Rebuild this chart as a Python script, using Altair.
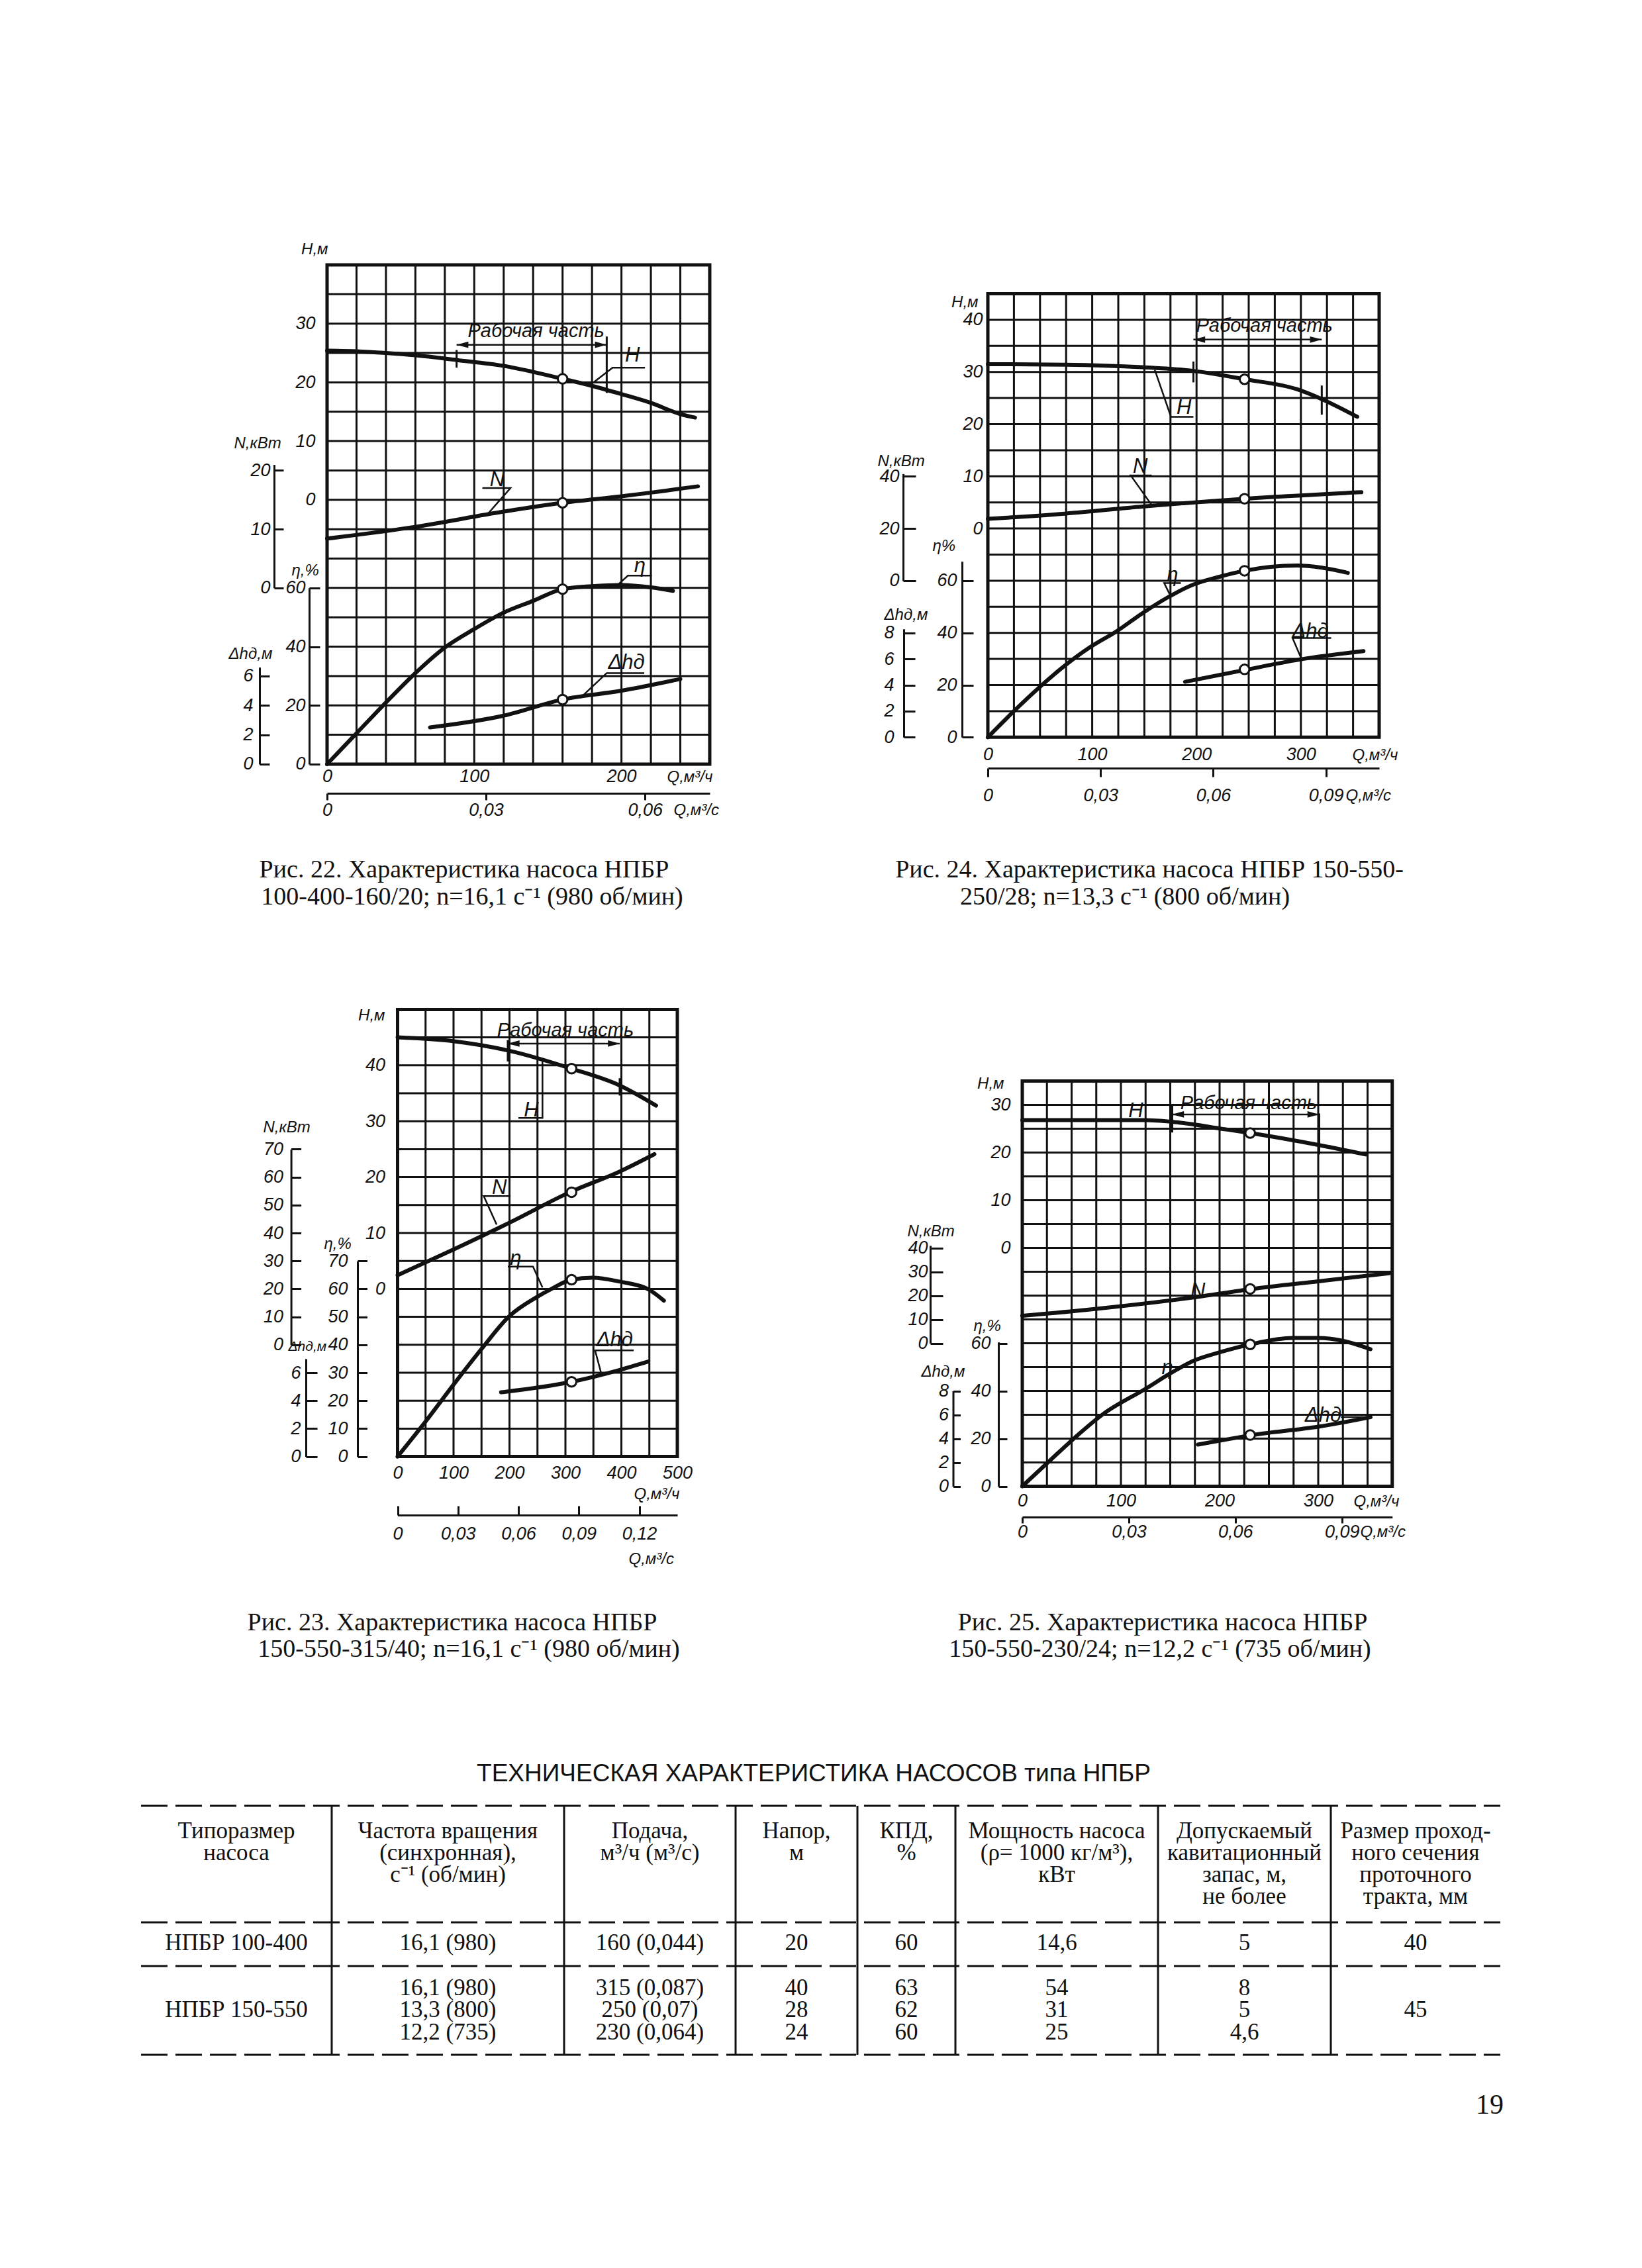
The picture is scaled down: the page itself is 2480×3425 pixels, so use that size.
import altair as alt
import pandas as pd

# ---------------- page ----------------
PAGE_W, PAGE_H, MARGIN = 2480, 3425, 8
VW, VH = PAGE_W - 2 * MARGIN, PAGE_H - 2 * MARGIN
SANS = "Liberation Sans"
SERIF = "Liberation Serif"
INK = "#111111"

# ---------------- Рис. 22 ----------------
q22_H = [0, 20, 40, 60, 88, 120, 160, 180, 200, 220, 240, 250]
H22 = [25.4, 25.3, 25.0, 24.6, 23.8, 22.8, 20.6, 19.4, 18.0, 16.5, 14.6, 14.0]
q22_N = [0, 60, 120, 160, 200, 252]
N22 = [8.4, 10.4, 13.0, 14.5, 15.6, 17.3]
q22_eta = [0, 20, 40, 60, 80, 100, 120, 140, 160, 180, 200, 220, 235]
eta22 = [0, 10.5, 21, 31, 39.7, 46, 51.6, 55.6, 59.6, 60.6, 61, 60.2, 59]
q22_dh = [70, 120, 160, 200, 240]
dh22 = [2.5, 3.3, 4.4, 5.0, 5.8]
duty22 = {"q": 160, "H": 20.6, "N": 14.5, "eta": 59.6, "dh": 4.4}
work22 = [88, 190]

# ---------------- Рис. 24 ----------------
q24_H = [0, 74, 148, 197, 246, 296, 320, 354]
H24 = [31.5, 31.4, 30.9, 30.2, 28.6, 26.7, 24.8, 21.4]
q24_N = [0, 74, 148, 246, 358]
N24 = [23.7, 25.7, 28.4, 31.4, 33.9]
q24_eta = [0, 25, 49, 74, 98, 123, 148, 172, 197, 222, 246, 271, 296, 320, 345]
eta24 = [0, 10, 19, 27.5, 34.5, 40.5, 47.5, 53.5, 58.5, 61.5, 63.8, 65.3, 65.8, 65.0, 63.0]
q24_dh = [189, 249, 302, 360]
dh24 = [4.25, 5.2, 6.0, 6.6]
duty24 = {"q": 246, "H": 28.6, "N": 31.4, "eta": 63.8, "dh": 5.2}
work24 = [197, 320]

# ---------------- Рис. 23 ----------------
q23_H = [0, 101, 200, 311, 397, 462]
H23 = [45, 44.3, 42.6, 39.4, 36.4, 32.8]
q23_N = [0, 101, 200, 308, 397, 459]
N23 = [24.9, 34.2, 43.7, 54.6, 62.0, 68.2]
q23_eta = [0, 51, 101, 150, 200, 249, 274, 311, 348, 397, 448, 476]
eta23 = [0, 12.8, 26, 38.5, 50.3, 57.1, 59.9, 63.3, 64, 62.6, 59.9, 55.8]
q23_dh = [185, 311, 397, 448]
dh23 = [4.6, 5.35, 6.2, 6.8]
duty23 = {"q": 311, "H": 39.4, "N": 54.6, "eta": 63.3, "dh": 5.35}
work23 = [197, 397]

# ---------------- Рис. 25 ----------------
q25_H = [0, 123, 154, 205, 231, 300, 348]
H25 = [26.8, 26.8, 26.4, 24.9, 24.1, 21.6, 19.6]
q25_N = [0, 72, 175, 233, 300, 372]
N25 = [11.5, 14.3, 19.3, 22.8, 26.0, 29.4]
q25_eta = [0, 27, 53, 82, 125, 151, 175, 200, 231, 274, 300, 324, 353]
eta25 = [0, 10.4, 20.3, 30.3, 40.9, 47.6, 52.9, 56.2, 59.5, 62.2, 62.2, 61.1, 57.5]
q25_dh = [178, 205, 233, 300, 353]
dh25 = [3.5, 3.9, 4.3, 5.0, 5.8]
duty25 = {"q": 231, "H": 24.1, "N": 22.8, "eta": 59.5, "dh": 4.3}
work25 = [152, 301]

# ---------------- texts ----------------
captions = [
    ["Рис. 22. Характеристика насоса НПБР", "100-400-160/20; n=16,1 с⁻¹ (980 об/мин)"],
    ["Рис. 24. Характеристика насоса НПБР 150-550-", "250/28; n=13,3 с⁻¹ (800 об/мин)"],
    ["Рис. 23. Характеристика насоса НПБР", "150-550-315/40; n=16,1 с⁻¹ (980 об/мин)"],
    ["Рис. 25. Характеристика насоса НПБР", "150-550-230/24; n=12,2 с⁻¹ (735 об/мин)"],
]
table_title = "ТЕХНИЧЕСКАЯ ХАРАКТЕРИСТИКА НАСОСОВ типа НПБР"
table_header = [
    ["Типоразмер", "насоса"],
    ["Частота вращения", "(синхронная),", "с⁻¹ (об/мин)"],
    ["Подача,", "м³/ч (м³/с)"],
    ["Напор,", "м"],
    ["КПД,", "%"],
    ["Мощность насоса", "(ρ= 1000 кг/м³),", "кВт"],
    ["Допускаемый", "кавитационный", "запас, м,", "не более"],
    ["Размер проход-", "ного сечения", "проточного", "тракта, мм"],
]
table_row1 = ["НПБР 100-400", "16,1 (980)", "160 (0,044)", "20", "60", "14,6", "5", "40"]
table_row2 = [
    ["НПБР 150-550"],
    ["16,1 (980)", "13,3 (800)", "12,2 (735)"],
    ["315 (0,087)", "250 (0,07)", "230 (0,064)"],
    ["40", "28", "24"],
    ["63", "62", "60"],
    ["54", "31", "25"],
    ["8", "5", "4,6"],
    ["45"],
]
page_number = "19"

# ---------------- layout (page pixels) ----------------
P22 = dict(
    left=494, top=400, cw=44.46, ch=44.35, ncols=13, nrows=17, qstep=20,
    units={"H": (40, 0, 5), "N": (0, 11, 5), "eta": (0, 17, 10), "dh": (0, 17, 2)},
    curves={"H": (q22_H, H22), "N": (q22_N, N22), "eta": (q22_eta, eta22), "dh": (q22_dh, dh22)},
    duty=duty22, work=work22, work_y=26.4, work_text=(142, 28.7),
    work_marks=[(88, 22.5, 25.5), (190, 18.2, 27.8)],
    side={"N": (21, 414, [0, 10, 20], 14, 6, "N,кВт", (353, 669), 24),
          "eta": (60, 467, [0, 20, 40, 60], 16, 6, "η,%", (440, 861), 24),
          "dh": (6.6, 392, [0, 2, 4, 6], 15, 10, "Δhд,м", (345, 987), 24)},
    H_vals=[0, 10, 20, 30], H_pad=18, H_title=(495, 376),
    Q_vals=[0, 100, 200], Q_pad=6, Q_title=(1007, 1173),
    Qs_line=1198, Qs_vals=[0, 0.03, 0.06], Qs_tick=10, Qs_pad=2, Qs_title=(1017, 1223), Qs_up=False,
    labels=[("H", "H", 207.5, 24.5), ("N", "N", 115.6, 18.4), ("eta", "η", 212.5, 67.5), ("dh", "Δhд", 203.4, 6.9)],
    leaders=[("H", [(180, 19.8), (194, 22.5), (216, 22.5)]),
             ("N", [(109.5, 12.7), (124.6, 17.0), (105.5, 17.0)]),
             ("eta", [(197.4, 61.0), (204.4, 64.2), (220.6, 64.2)]),
             ("dh", [(172, 4.5), (190, 6.2), (215.5, 6.2)])],
)
P24 = dict(
    left=1492, top=443.5, cw=39.4, ch=39.4, ncols=15, nrows=17, qstep=25,
    units={"H": (45, 0, 5), "N": (0, 11, 10), "eta": (0, 17, 10), "dh": (0, 17, 2)},
    curves={"H": (q24_H, H24), "N": (q24_N, N24), "eta": (q24_eta, eta24), "dh": (q24_dh, dh24)},
    duty=duty24, work=work24, work_y=36.2, work_text=(265, 38.8),
    work_marks=[(197, 28, 32), (320, 21.8, 27.4)],
    side={"N": (41, 1364, [0, 20, 40], 19, 6, "N,кВт", (1325, 696), 24),
          "eta": (67.4, 1453, [0, 20, 40, 60], 17, 8, "η%", (1408, 824), 24),
          "dh": (8.3, 1365, [0, 2, 4, 6, 8], 17, 15, "Δhд,м", (1335, 928), 24)},
    H_vals=[0, 10, 20, 30, 40], H_pad=8, H_title=(1477, 456),
    Q_vals=[0, 100, 200, 300], Q_pad=13, Q_title=(2042, 1140),
    Qs_line=1160, Qs_vals=[0, 0.03, 0.06, 0.09], Qs_tick=13, Qs_pad=15, Qs_title=(2032, 1201), Qs_up=False,
    labels=[("H", "H", 188, 23.1), ("N", "N", 146, 43.6), ("eta", "η", 177, 62.0), ("dh", "Δhд", 309, 8.1)],
    leaders=[("H", [(160, 30.4), (175.5, 21.4), (197, 21.4)]),
             ("N", [(157, 29), (137, 40.3), (157, 40.3)]),
             ("eta", [(175.5, 53.8), (169, 59.1), (185, 59.1)]),
             ("dh", [(300, 6.1), (292, 7.6), (329, 7.6)])],
)
P23 = dict(
    left=600.5, top=1524.4, cw=42.25, ch=42.2, ncols=10, nrows=16, qstep=50,
    units={"H": (50, 0, 5), "N": (0, 12, 10), "eta": (0, 16, 10), "dh": (0, 16, 2)},
    curves={"H": (q23_H, H23), "N": (q23_N, N23), "eta": (q23_eta, eta23), "dh": (q23_dh, dh23)},
    duty=duty23, work=work23, work_y=43.9, work_text=(300, 46.3),
    work_marks=[(197, 40.7, 44.5), (397, 34.6, 37.7)],
    side={"N": (70, 439.6, [0, 10, 20, 30, 40, 50, 60, 70], 15, 12, "N,кВт", (397, 1702), 24),
          "eta": (70, 540, [0, 10, 20, 30, 40, 50, 60, 70], 14.5, 15, "η,%", (489, 1878), 24),
          "dh": (7, 462, [0, 2, 4, 6], 17, 8, "Δhд,м", (435, 2033), 21)},
    H_vals=[0, 10, 20, 30, 40], H_pad=19, H_title=(581, 1533),
    Q_vals=[0, 100, 200, 300, 400, 500], Q_pad=12, Q_title=(957, 2256),
    Qs_line=2288, Qs_vals=[0, 0.03, 0.06, 0.09, 0.12], Qs_tick=14, Qs_pad=15, Qs_title=(949, 2354), Qs_up=True,
    labels=[("H", "H", 239, 31.9), ("N", "N", 182, 56), ("eta", "η", 211, 70.8), ("dh", "Δhд", 388, 8.3)],
    leaders=[("H", [(216, 30.6), (259, 30.6), (259, 40.8)]),
             ("N", [(177, 43), (154, 53.2), (202, 53.2)]),
             ("eta", [(197, 68), (242, 68), (259, 60.5)]),
             ("dh", [(365, 5.8), (353, 7.6), (422, 7.6)])],
)
P25 = dict(
    left=1544, top=1632.5, cw=37.25, ch=36.0, ncols=15, nrows=17, qstep=25,
    units={"H": (35, 0, 5), "N": (0, 11, 10), "eta": (0, 17, 10), "dh": (0, 17, 2)},
    curves={"H": (q25_H, H25), "N": (q25_N, N25), "eta": (q25_eta, eta25), "dh": (q25_dh, dh25)},
    duty=duty25, work=work25, work_y=28.0, work_text=(229.5, 30.3),
    work_marks=[(152, 24.2, 29.9), (301, 19.6, 28.2)],
    side={"N": (41, 1405, [0, 10, 20, 30, 40], 19, 4, "N,кВт", (1370, 1859), 24),
          "eta": (60.5, 1508, [0, 20, 40, 60], 13, 12, "η,%", (1470, 2002), 24),
          "dh": (8, 1439.5, [0, 2, 4, 6, 8], 11, 7, "Δhд,м", (1391, 2071), 24)},
    H_vals=[0, 10, 20, 30], H_pad=18, H_title=(1516, 1636),
    Q_vals=[0, 100, 200, 300], Q_pad=9, Q_title=(2044, 2267),
    Qs_line=2291, Qs_vals=[0, 0.03, 0.06, 0.09], Qs_tick=9, Qs_pad=0, Qs_title=(2054, 2313), Qs_up=False,
    labels=[("H", "H", 115, 28.7), ("N", "N", 178, 21.8), ("eta", "η", 147, 49.5), ("dh", "Δhд", 305, 5.9)],
    leaders=[("dh", [(323, 5.8), (349, 5.8)])],
)

AX = dict(labelFont=SANS, labelFontSize=27, labelFontStyle="italic", labelFontWeight="normal", labelColor=INK,
          titleFont=SANS, titleFontStyle="italic", titleFontWeight="normal", titleColor=INK,
          labelOverlap=False, labelFlush=False, grid=False)


def S(domain, rng):
    return alt.Scale(domain=[float(d) for d in domain], range=[float(r) for r in rng], nice=False, zero=False)


def build_panel(P):
    out = []
    Lp, Tp = P["left"], P["top"]
    L, T = Lp - MARGIN, Tp - MARGIN
    cw, ch, nc, nr = P["cw"], P["ch"], P["ncols"], P["nrows"]
    R, B = L + nc * cw, T + nr * ch
    Bp = B + MARGIN
    qmax = nc * P["qstep"]
    xs = S([0, qmax], [L, R])
    xss = S([0, qmax / 3600.0], [L, R])

    def ypx(key, v):
        rv, rr, upr = P["units"][key]
        return T + (rr + (rv - v) / upr) * ch

    def ys(key, d0, d1):
        return S([d0, d1], [ypx(key, d0), ypx(key, d1)])

    hv, _, hupr = P["units"]["H"]
    h_top, h_bot = hv, hv - nr * hupr
    hs = ys("H", h_bot, h_top)
    yscale = {"H": hs}
    side_axes = {}
    for key, (dtop, lx, vals, tsz, gap, title, (tx, ty), tfs) in P["side"].items():
        yscale[key] = ys(key, 0, dtop)
        side_axes[key] = alt.Axis(
            orient="right", offset=(lx - MARGIN) - VW, values=vals, format="d",
            domain=True, domainWidth=3, domainColor=INK, ticks=True, tickSize=tsz, tickWidth=3, tickColor=INK,
            labelAlign="right", labelBaseline="middle", labelPadding=-(tsz + gap),
            title=title, titleFontSize=tfs, titleAngle=0, titleAlign="left", titleBaseline="middle",
            titleX=tx - lx, titleY=ty - MARGIN, **AX)

    axis_H = alt.Axis(orient="left", offset=-L, values=P["H_vals"], format="d", domain=False, ticks=False,
                      tickSize=0, labelAlign="right", labelBaseline="middle", labelPadding=P["H_pad"],
                      title="H,м", titleFontSize=24, titleAngle=0, titleAlign="right", titleBaseline="middle",
                      titleX=P["H_title"][0] - Lp, titleY=P["H_title"][1] - MARGIN, **AX)
    axis_Q = alt.Axis(orient="bottom", offset=B - VH, values=P["Q_vals"], format="d", domain=False, ticks=False,
                      tickSize=0, labelAlign="center", labelBaseline="top", labelPadding=P["Q_pad"],
                      title="Q,м³/ч", titleFontSize=24, titleAngle=0, titleAlign="left", titleBaseline="middle",
                      titleX=P["Q_title"][0] - MARGIN, titleY=P["Q_title"][1] - Bp, **AX)
    lbl = "datum.value == 0 ? '0' : replace(format(datum.value, '.2f'), '.', ',')"
    qline = P["Qs_line"] - MARGIN
    common = dict(values=P["Qs_vals"], labelExpr=lbl, domain=True, domainWidth=3, domainColor=INK, ticks=True,
                  tickSize=P["Qs_tick"], tickWidth=3, tickColor=INK, labelAlign="center", labelBaseline="top",
                  title="Q,м³/с", titleFontSize=24, titleAngle=0, titleAlign="left", titleBaseline="middle",
                  titleX=P["Qs_title"][0] - MARGIN, titleY=P["Qs_title"][1] - P["Qs_line"], **AX)
    if P["Qs_up"]:
        axis_Qs = alt.Axis(orient="top", offset=-qline, labelPadding=-(P["Qs_tick"] + P["Qs_pad"]), **common)
    else:
        axis_Qs = alt.Axis(orient="bottom", offset=qline - VH, labelPadding=P["Qs_pad"], **common)

    # grid
    gq = [i * P["qstep"] for i in range(nc + 1)]
    vgrid = pd.DataFrame({"qs": [g / 3600.0 for g in gq], "y1": h_bot, "y2": h_top})
    out.append(alt.Chart(vgrid).mark_rule(color=INK, strokeWidth=3).encode(
        x=alt.X("qs:Q", scale=xss, axis=axis_Qs),
        y=alt.Y("y1:Q", scale=hs, axis=axis_H), y2="y2:Q"))
    gh = [h_top - i * hupr for i in range(nr + 1)]
    hgrid = pd.DataFrame({"h": gh, "x1": 0.0, "x2": float(qmax)})
    out.append(alt.Chart(hgrid).mark_rule(color=INK, strokeWidth=3).encode(
        x=alt.X("x1:Q", scale=xs, axis=axis_Q), x2="x2:Q",
        y=alt.Y("h:Q", scale=hs, axis=None)))
    frame = pd.DataFrame({"x1": [0.0], "x2": [float(qmax)], "y1": [h_bot], "y2": [h_top]})
    out.append(alt.Chart(frame).mark_rect(fillOpacity=0, stroke=INK, strokeWidth=5).encode(
        x=alt.X("x1:Q", scale=xs, axis=None), x2="x2:Q",
        y=alt.Y("y1:Q", scale=hs, axis=None), y2="y2:Q"))

    # curves + duty points
    for key in ["H", "N", "eta", "dh"]:
        qv, vv = P["curves"][key]
        df = pd.DataFrame({"q": qv, "v": vv})
        ax = side_axes.get(key)
        out.append(alt.Chart(df).mark_line(color=INK, strokeWidth=6, interpolate="monotone",
                                           strokeCap="round").encode(
            x=alt.X("q:Q", scale=xs, axis=None),
            y=alt.Y("v:Q", scale=yscale[key], axis=ax)))
    for key in ["H", "N", "eta", "dh"]:
        d = P["duty"]
        out.append(alt.Chart(pd.DataFrame({"q": [d["q"]], "v": [d[key]]})).mark_point(
            shape="circle", filled=True, fill="white", stroke=INK, strokeWidth=3, size=210, opacity=1).encode(
            x=alt.X("q:Q", scale=xs, axis=None), y=alt.Y("v:Q", scale=yscale[key], axis=None)))

    # working range "Рабочая часть"
    q1, q2 = P["work"]
    wy = P["work_y"]
    out.append(alt.Chart(pd.DataFrame({"x1": [q1], "x2": [q2], "y": [wy]})).mark_rule(
        color=INK, strokeWidth=2.5).encode(
        x=alt.X("x1:Q", scale=xs, axis=None), x2="x2:Q", y=alt.Y("y:Q", scale=hs, axis=None)))
    marks = pd.DataFrame(P["work_marks"], columns=["q", "y1", "y2"])
    out.append(alt.Chart(marks).mark_rule(color=INK, strokeWidth=3).encode(
        x=alt.X("q:Q", scale=xs, axis=None), y=alt.Y("y1:Q", scale=hs, axis=None), y2="y2:Q"))
    for qq, path in [(q1, "M0,0L2.2,-0.6L2.2,0.6Z"), (q2, "M0,0L-2.2,-0.6L-2.2,0.6Z")]:
        out.append(alt.Chart(pd.DataFrame({"q": [qq], "y": [wy]})).mark_point(
            shape=path, filled=True, color=INK, size=260, opacity=1).encode(
            x=alt.X("q:Q", scale=xs, axis=None), y=alt.Y("y:Q", scale=hs, axis=None)))
    wt = pd.DataFrame({"q": [P["work_text"][0]], "y": [P["work_text"][1]], "t": ["Рабочая часть"]})
    out.append(alt.Chart(wt).mark_text(font=SANS, fontSize=29, fontStyle="italic",
                                       color=INK, align="center", baseline="middle").encode(
        x=alt.X("q:Q", scale=xs, axis=None), y=alt.Y("y:Q", scale=hs, axis=None), text="t:N"))

    # curve labels and leader lines
    for key in ["H", "N", "eta", "dh"]:
        labs = [(t, q, v) for (k, t, q, v) in P["labels"] if k == key]
        if labs:
            ldf = pd.DataFrame(labs, columns=["t", "q", "v"])
            out.append(alt.Chart(ldf).mark_text(font=SANS, fontSize=31, fontStyle="italic",
                                                color=INK, align="center", baseline="middle").encode(
                x=alt.X("q:Q", scale=xs, axis=None), y=alt.Y("v:Q", scale=yscale[key], axis=None),
                text="t:N"))
        rows = []
        for gi, (k, pts) in enumerate(P["leaders"]):
            if k != key:
                continue
            for i, (q, v) in enumerate(pts):
                rows.append({"q": q, "v": v, "g": gi, "i": i})
        if rows:
            out.append(alt.Chart(pd.DataFrame(rows)).mark_line(color=INK, strokeWidth=2.5).encode(
                x=alt.X("q:Q", scale=xs, axis=None), y=alt.Y("v:Q", scale=yscale[key], axis=None),
                detail="g:N", order="i:Q"))
    return out


# ---------------- page-level text & table ----------------
pxs = S([0, PAGE_W], [-MARGIN, PAGE_W - MARGIN])
pys = S([0, PAGE_H], [-MARGIN, PAGE_H - MARGIN])


def page_text(df, font, size, weight="normal"):
    return alt.Chart(df).mark_text(font=font, fontSize=size, fontWeight=weight, color=INK,
                                   align="center", baseline="middle").encode(
        x=alt.X("x:Q", scale=pxs, axis=None), y=alt.Y("y:Q", scale=pys, axis=None), text="t:N")


CAPTION_POS = [((701, 1314), (713, 1355)), ((1736, 1314), (1699, 1355)),
               ((683, 2451), (708, 2491)), ((1756, 2451), (1752, 2491))]
cap_rows = []
for lines, poss in zip(captions, CAPTION_POS):
    for t, (x, y) in zip(lines, poss):
        cap_rows.append({"x": x, "y": y, "t": t})

COL_EDGES = [213, 501, 852, 1111, 1295, 1443, 1749, 2010, 2266]
HLINES = [2727, 2903, 2969, 3103]
HEAD_Y = [2765, 2798, 2831, 2864]
ROW1_Y = 2934
ROW2_Y = [3002, 3035, 3069]
centers = [(a + b) / 2 for a, b in zip(COL_EDGES[:-1], COL_EDGES[1:])]
tbl_rows = []
for c, lines in enumerate(table_header):
    for i, t in enumerate(lines):
        tbl_rows.append({"x": centers[c], "y": HEAD_Y[i], "t": t})
for c, t in enumerate(table_row1):
    tbl_rows.append({"x": centers[c], "y": ROW1_Y, "t": t})
for c, vals in enumerate(table_row2):
    if len(vals) == 1:
        tbl_rows.append({"x": centers[c], "y": ROW2_Y[1], "t": vals[0]})
    else:
        for i, t in enumerate(vals):
            tbl_rows.append({"x": centers[c], "y": ROW2_Y[i], "t": t})

page_layers = [
    page_text(pd.DataFrame(cap_rows), SERIF, 38),
    page_text(pd.DataFrame([{"x": 1229, "y": 2679, "t": table_title}]), SANS, 37),
    page_text(pd.DataFrame(tbl_rows), SERIF, 35),
    page_text(pd.DataFrame([{"x": 2250, "y": 3179, "t": page_number}]), SERIF, 42),
    alt.Chart(pd.DataFrame({"y": HLINES, "x1": COL_EDGES[0], "x2": COL_EDGES[-1]})).mark_rule(
        color=INK, strokeWidth=3, strokeDash=[40, 12]).encode(
        x=alt.X("x1:Q", scale=pxs, axis=None), x2="x2:Q", y=alt.Y("y:Q", scale=pys, axis=None)),
    alt.Chart(pd.DataFrame({"x": COL_EDGES[1:-1], "y1": HLINES[0], "y2": HLINES[-1]})).mark_rule(
        color=INK, strokeWidth=3).encode(
        x=alt.X("x:Q", scale=pxs, axis=None), y=alt.Y("y1:Q", scale=pys, axis=None), y2="y2:Q"),
]

layers = []
for P in [P22, P24, P23, P25]:
    layers += build_panel(P)
layers += page_layers

chart = alt.layer(*layers).resolve_scale(x="independent", y="independent").properties(
    width=VW, height=VH, autosize=alt.AutoSizeParams(type="none"), padding=0, background="white"
).configure_view(stroke=None)

chart.save("out.html", embed_options={"renderer": "svg", "actions": False})
